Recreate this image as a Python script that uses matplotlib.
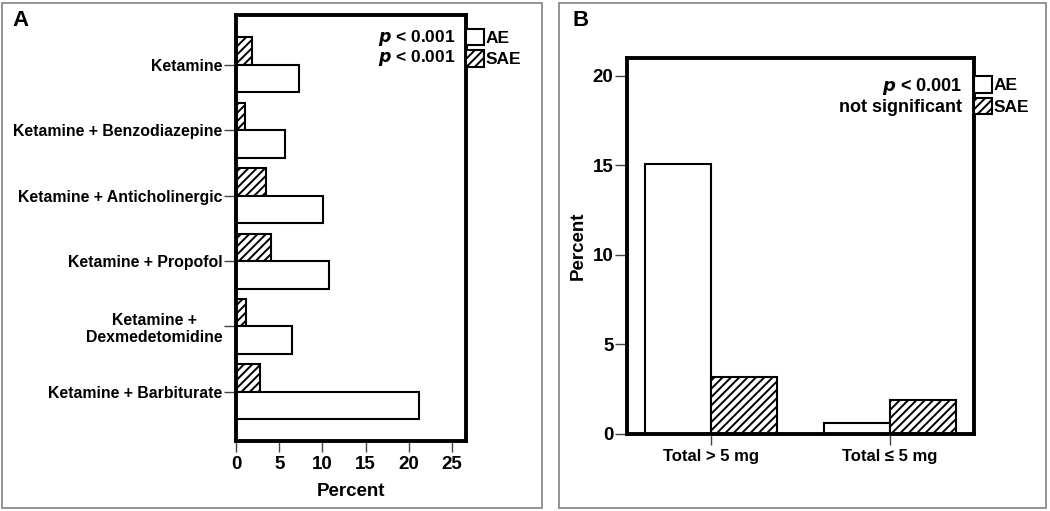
import matplotlib
matplotlib.use("Agg")
import matplotlib.pyplot as plt
from matplotlib.patches import Rectangle, Patch
import numpy as np

plt.rcParams['font.family'] = ['Liberation Sans', 'DejaVu Sans']
plt.rcParams['font.weight'] = 'bold'
plt.rcParams['axes.labelweight'] = 'bold'
plt.rcParams['hatch.linewidth'] = 1.4

# panel A data
combos = ["Ketamine", "Ketamine + Benzodiazepine", "Ketamine + Anticholinergic",
          "Ketamine + Propofol", "Ketamine +\nDexmedetomidine", "Ketamine + Barbiturate"]
ae_a = [7.3, 5.7, 10.1, 10.8, 6.5, 21.2]
sae_a = [1.8, 1.0, 3.5, 4.0, 1.1, 2.8]
xticks_a = [0, 5, 10, 15, 20, 25]

# panel B data
doses = ["Total > 5 mg", "Total ≤ 5 mg"]
ae_b = [15.1, 0.6]
sae_b = [3.2, 1.9]
yticks_b = [0, 5, 10, 15, 20]

fig = plt.figure(figsize=(10.5, 5.11), dpi=100)

# grey panel frames
for x0, x1 in [(2, 542), (559, 1046)]:
    fig.patches.append(Rectangle((x0 / 1050, 3 / 511), (x1 - x0) / 1050, 505 / 511,
                                 transform=fig.transFigure, fill=False,
                                 edgecolor='#808080', linewidth=1.2))

def style(ax):
    for s in ax.spines.values():
        s.set_linewidth(2.8)
    ax.tick_params(width=1.0, color='#444444', labelsize=13.5, length=8.3, pad=1.5)

def add_legend(ax, top):
    h = [Patch(facecolor='white', edgecolor='black', linewidth=1.5),
         Patch(facecolor='white', edgecolor='black', linewidth=1.5, hatch='////')]
    ax.legend(h, ["AE", "SAE"], loc='upper left', bbox_to_anchor=(1.0, top),
              frameon=False, handlelength=1.05, handleheight=1.1, handletextpad=0.1,
              labelspacing=0.25, borderaxespad=0, borderpad=0, fontsize=12.5)

# ---- panel A ----
axA = fig.add_axes([236 / 1050, 1 - 441 / 511, 230 / 1050, 426 / 511])
y = np.arange(len(combos))
hb = 0.42
axA.barh(y - hb / 2, sae_a, height=hb, facecolor='white', edgecolor='black',
         linewidth=1.5, hatch='////')
axA.barh(y + hb / 2, ae_a, height=hb, facecolor='white', edgecolor='black', linewidth=1.5)
axA.set_ylim(5.75, -0.76)
axA.set_xlim(0, 26.6)
axA.set_yticks(y)
axA.set_yticklabels(combos, multialignment='center')
axA.set_xticks(xticks_a)
style(axA)
axA.tick_params(axis='y', labelsize=11.4)
axA.tick_params(axis='x', length=8, pad=3)
axA.set_xlabel("Percent", fontsize=13.5, labelpad=7)
axA.text(0.955, 0.946, "$\\boldsymbol{p}$ < 0.001", transform=axA.transAxes,
         ha='right', va='center', fontsize=12.5)
axA.text(0.955, 0.900, "$\\boldsymbol{p}$ < 0.001", transform=axA.transAxes,
         ha='right', va='center', fontsize=12.5)
add_legend(axA, 0.968)
fig.text(12 / 1050, 1 - 20 / 511, "A", fontsize=16, va='center', ha='left')

# ---- panel B ----
axB = fig.add_axes([627 / 1050, 1 - 434 / 511, 347 / 1050, 376 / 511])
x = np.arange(len(doses))
wb = 0.37
axB.bar(x - wb / 2, ae_b, width=wb, facecolor='white', edgecolor='black', linewidth=1.5)
axB.bar(x + wb / 2, sae_b, width=wb, facecolor='white', edgecolor='black',
        linewidth=1.5, hatch='////')
axB.set_xlim(-0.47, 1.47)
axB.set_ylim(0, 21.0)
axB.set_xticks(x)
axB.set_xticklabels(doses)
axB.set_yticks(yticks_b)
style(axB)
axB.tick_params(axis='x', labelsize=12, length=8, pad=3)
axB.set_ylabel("Percent", fontsize=13.5, labelpad=4)
axB.text(0.965, 0.925, "$\\boldsymbol{p}$ < 0.001", transform=axB.transAxes,
         ha='right', va='center', fontsize=13)
axB.text(0.965, 0.868, "not significant", transform=axB.transAxes,
         ha='right', va='center', fontsize=13)
add_legend(axB, 0.952)
fig.text(573 / 1050, 1 - 20 / 511, "B", fontsize=16, va='center', ha='left')

fig.savefig("out.png", dpi=100)
